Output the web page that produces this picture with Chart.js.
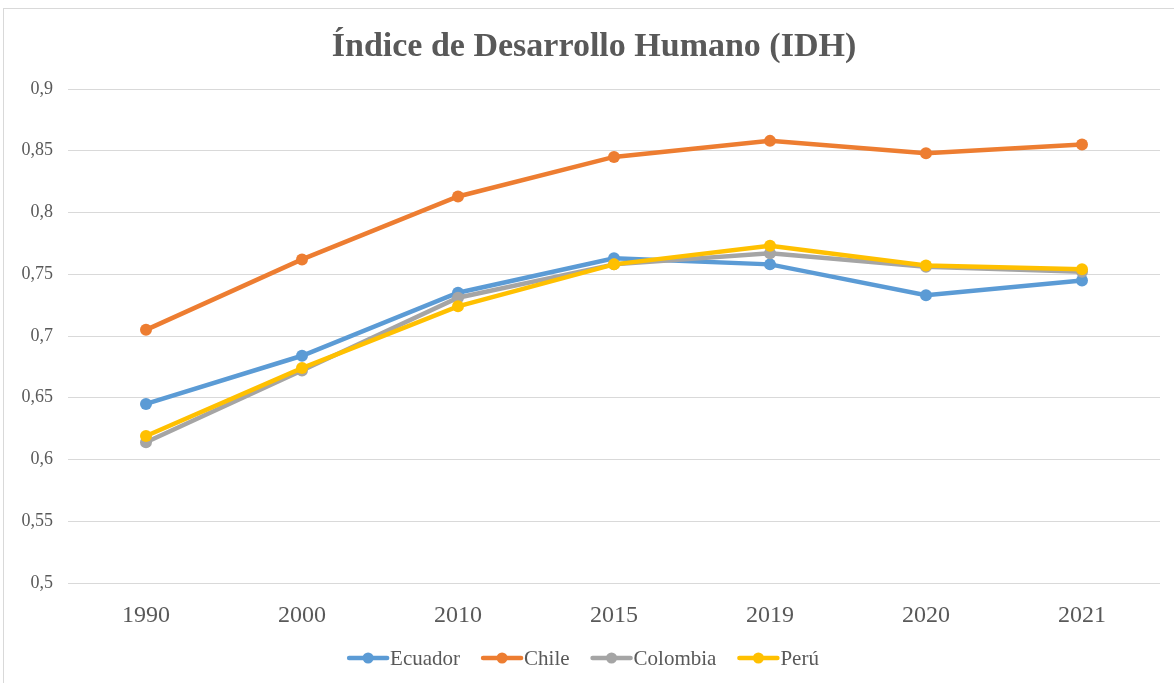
<!DOCTYPE html>
<html>
<head>
<meta charset="utf-8">
<script src="https://cdn.jsdelivr.net/npm/chart.js@4/dist/chart.umd.min.js"></script>
<style>
  html, body { margin: 0; padding: 0; background: #fff; }
  #frame { position: absolute; left: 3px; top: 8px; width: 1200px; height: 700px; border: 1px solid #d9d9d9; box-sizing: border-box; }
  #wrap { position: absolute; left: 0; top: 0; width: 1174px; height: 683px; }
</style>
</head>
<body>
<div id="frame"></div>
<div id="wrap"><canvas id="chart"></canvas></div>
<script>
const title = "Índice de Desarrollo Humano (IDH)";
const years = ["1990", "2000", "2010", "2015", "2019", "2020", "2021"];
const ecuador = [0.645, 0.684, 0.735, 0.763, 0.758, 0.733, 0.745];
const chile = [0.705, 0.762, 0.813, 0.845, 0.858, 0.848, 0.855];
const colombia = [0.614, 0.672, 0.731, 0.758, 0.767, 0.756, 0.752];
const peru = [0.619, 0.674, 0.724, 0.758, 0.773, 0.757, 0.754];

const TEXT = "#595959";
const FONT = "'Liberation Serif', 'Times New Roman', serif";

function series(label, data, color, order) {
  return {
    label,
    data,
    borderColor: color,
    backgroundColor: color,
    borderWidth: 4.5,
    pointRadius: 6,
    pointHoverRadius: 6,
    pointBorderWidth: 0,
    tension: 0,
    order
  };
}

// title and legend drawn by hand so they sit where the original has them
const decorations = {
  id: "decorations",
  afterDraw(chart) {
    const ctx = chart.ctx;
    ctx.save();
    ctx.fillStyle = TEXT;
    ctx.textAlign = "center";
    ctx.textBaseline = "middle";
    ctx.font = "bold 34px " + FONT;
    ctx.fillText(title, 594, 47);

    const items = chart.data.datasets;
    const symbolW = 42;
    const gap = 21;
    ctx.font = "21px " + FONT;
    const widths = items.map((d) => symbolW + 1 + ctx.measureText(d.label).width);
    const total = widths.reduce((a, b) => a + b, 0) + gap * (items.length - 1);
    let x = 583 - total / 2;
    const y = 658;
    items.forEach((d, i) => {
      ctx.strokeStyle = d.borderColor;
      ctx.lineWidth = 4.5;
      ctx.lineCap = "round";
      ctx.beginPath();
      ctx.moveTo(x + 2, y);
      ctx.lineTo(x + symbolW - 2, y);
      ctx.stroke();
      ctx.fillStyle = d.borderColor;
      ctx.beginPath();
      ctx.arc(x + symbolW / 2, y, 5.5, 0, Math.PI * 2);
      ctx.fill();
      ctx.fillStyle = TEXT;
      ctx.textAlign = "left";
      ctx.fillText(d.label, x + symbolW + 1, y + 1);
      x += widths[i] + gap;
    });
    ctx.restore();
  }
};

new Chart(document.getElementById("chart"), {
  type: "line",
  data: {
    labels: years,
    datasets: [
      series("Ecuador", ecuador, "#5B9BD5", 4),
      series("Chile", chile, "#ED7D31", 3),
      series("Colombia", colombia, "#A5A5A5", 2),
      series("Perú", peru, "#FFC000", 1)
    ]
  },
  options: {
    responsive: true,
    maintainAspectRatio: false,
    animation: false,
    layout: { padding: { left: 0, right: 14, top: 89, bottom: 50 } },
    plugins: {
      legend: { display: false },
      tooltip: { enabled: false },
      title: { display: false }
    },
    scales: {
      x: {
        offset: true,
        grid: { display: false },
        border: { display: false },
        ticks: { color: TEXT, font: { family: FONT, size: 24 }, padding: 10 },
        afterFit(scale) { scale.height = 50; }
      },
      y: {
        min: 0.5,
        max: 0.9,
        grid: { color: "#d9d9d9", lineWidth: 1, drawTicks: false },
        border: { display: false },
        ticks: {
          stepSize: 0.05,
          color: TEXT,
          font: { family: FONT, size: 18 },
          padding: 15,
          callback: (v) => String(Math.round(v * 100) / 100).replace(".", ",")
        },
        afterFit(scale) { scale.width = 68; }
      }
    }
  },
  plugins: [decorations]
});
</script>
</body>
</html>
